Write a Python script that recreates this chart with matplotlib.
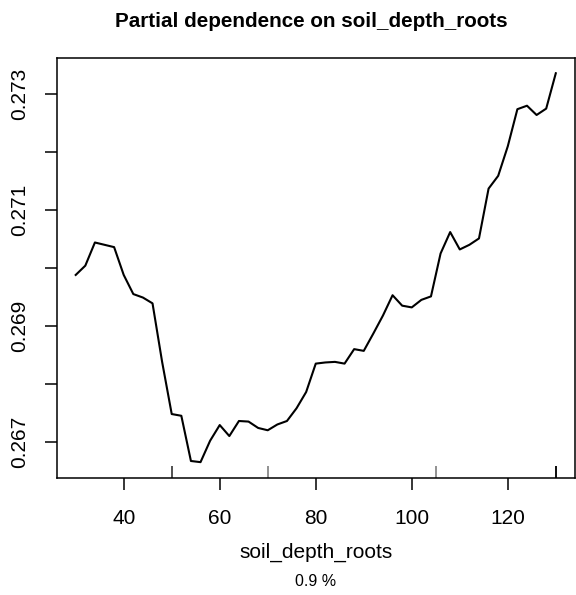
import matplotlib
matplotlib.use("Agg")
import matplotlib.pyplot as plt
import matplotlib.transforms as mtransforms

plt.rcParams["font.family"] = ["Liberation Sans", "DejaVu Sans"]

# Partial dependence curve
depth = [30, 32, 34, 36, 38, 40, 42, 44, 46, 48, 50, 52, 54, 56, 58, 60, 62,
         64, 66, 68, 70, 72, 74, 76, 78, 80, 82, 84, 86, 88, 90, 92, 94, 96,
         98, 100, 102, 104, 106, 108, 110, 112, 114, 116, 118, 120, 122, 124,
         126, 128, 130]
response = [0.26988, 0.27004, 0.27044, 0.27040, 0.27036, 0.26988, 0.26955,
            0.26949, 0.26939, 0.26838, 0.26748, 0.26745, 0.26667, 0.26665,
            0.26702, 0.26729, 0.26710, 0.26736, 0.26735, 0.26724, 0.26720,
            0.26730, 0.26736, 0.26758, 0.26786, 0.26835, 0.26837, 0.26838,
            0.26835, 0.26860, 0.26857, 0.26887, 0.26918, 0.26953, 0.26935,
            0.26932, 0.26945, 0.26951, 0.27025, 0.27062, 0.27032, 0.27040,
            0.27051, 0.27137, 0.27159, 0.27210, 0.27274, 0.27280, 0.27264,
            0.27275, 0.27336]

# Deciles of the predictor (rug)
deciles = [50, 50, 70, 105, 130, 130, 130, 130, 130]

x_ticks = [40, 60, 80, 100, 120]
y_ticks = [0.267, 0.268, 0.269, 0.270, 0.271, 0.272, 0.273]
y_tick_labels = ["0.267", "", "0.269", "", "0.271", "", "0.273"]

title = "Partial dependence on soil_depth_roots"
xlabel = "soil_depth_roots"
subtitle = "0.9 %"

W, H = 576, 595
fig = plt.figure(figsize=(W / 100, H / 100), dpi=100)
ax = fig.add_axes([56.5 / W, 1 - 477.7 / H, 518.5 / W, 420 / H])

ax.plot(depth, response, color="black", lw=1.5)
ax.margins(x=0.04, y=0.04)

# rug along the bottom edge
trans = mtransforms.blended_transform_factory(ax.transData, ax.transAxes)
ax.vlines(deciles, 0, 12 / 420, transform=trans, color="black",
          alpha=0.5, lw=1.2)

for s in ax.spines.values():
    s.set_linewidth(1.1)
    s.set_color("black")

ax.set_xticks(x_ticks)
ax.set_yticks(y_ticks)
ax.set_yticklabels(y_tick_labels)
ax.tick_params(axis="both", direction="out", length=8.6, width=1.1,
               labelsize=15, colors="black")
ax.tick_params(axis="x", pad=14)
ax.tick_params(axis="y", pad=11)
for lab in ax.get_yticklabels():
    lab.set_rotation(90)
    lab.set_va("center")

fig.text(311.5 / W, 1 - 26.7 / H, title, ha="center", va="baseline",
         fontsize=14.9, fontweight="bold")
fig.text(315.7 / W, 1 - 558 / H, xlabel, ha="center", va="baseline",
         fontsize=15)
fig.text(315.7 / W, 1 - 586 / H, subtitle, ha="center", va="baseline",
         fontsize=11.5)

fig.savefig("out.png", dpi=100)
